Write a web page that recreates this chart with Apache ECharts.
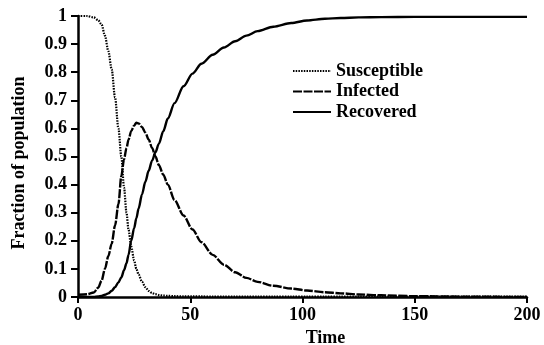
<!DOCTYPE html>
<html><head><meta charset="utf-8">
<script src="https://cdn.jsdelivr.net/npm/echarts@6/dist/echarts.min.js"></script>
<style>html,body{margin:0;padding:0;background:#fff}#c{width:544px;height:345px}</style>
</head><body><div id="c"></div>
<script>
const times =       [0,4,7,9,10.5,12,13.5,15,16.5,18,19.3,20.5,21.6,22.5,23.7,25,26,27,28.5,30,31.5,33,34.5,36,38,40,43,47,51,55,60,65,70,75,80,87,95,102,110,117,125,135,150,175,200];
const susceptible = [1.0,1.0,0.995,0.985,0.97,0.93,0.875,0.81,0.71,0.6,0.5,0.39,0.3,0.24,0.18,0.13,0.1,0.08,0.055,0.035,0.022,0.014,0.01,0.007,0.005,0.004,0.003,0.002,0.002,0.002,0.001,0.001,0.001,0.001,0.001,0.001,0.001,0.001,0.001,0.001,0.001,0.001,0.001,0.001,0.001];
const infected =    [0.008,0.01,0.016,0.033,0.058,0.1,0.145,0.19,0.255,0.33,0.43,0.49,0.53,0.56,0.59,0.61,0.62,0.618,0.605,0.585,0.56,0.53,0.5,0.47,0.435,0.4,0.345,0.29,0.24,0.195,0.15,0.115,0.088,0.068,0.054,0.04,0.03,0.023,0.017,0.013,0.009,0.006,0.003,0.001,0.0];
const recovered =   [0,0,0,0.002,0.004,0.008,0.013,0.022,0.035,0.052,0.07,0.095,0.12,0.15,0.2,0.245,0.28,0.315,0.365,0.41,0.45,0.485,0.515,0.545,0.59,0.635,0.69,0.75,0.795,0.83,0.862,0.888,0.91,0.93,0.946,0.962,0.975,0.984,0.99,0.993,0.995,0.996,0.997,0.997,0.997];
const seriesNames = ['Susceptible','Infected','Recovered'];

const pair = arr => times.map((t,i)=>[t,arr[i]]);
const font = 'Liberation Serif';
const chart = echarts.init(document.getElementById('c'));
chart.setOption({
  animation:false,
  grid:{left:78,right:17,top:16,bottom:48,containLabel:false,outerBoundsMode:'none'},
  legend:{orient:'vertical',left:287,top:57,itemWidth:38,itemHeight:14,itemGap:2.5,
    itemStyle:{opacity:0},
    textStyle:{fontFamily:font,fontSize:18,fontWeight:'bold',color:'#000',lineHeight:18,padding:[0,0,0,0]},
    data:seriesNames},
  xAxis:{type:'value',min:0,max:200,interval:50,name:'Time',nameLocation:'middle',nameGap:28,
    nameTextStyle:{fontFamily:font,fontSize:18,fontWeight:'bold',color:'#000',padding:[0,0,0,46]},
    axisLine:{lineStyle:{color:'#000',width:2.5}},
    axisTick:{lineStyle:{color:'#000',width:2},length:6},
    axisLabel:{fontFamily:font,fontSize:18,fontWeight:'bold',color:'#000',margin:9},
    splitLine:{show:false}},
  yAxis:{type:'value',min:0,max:1,interval:0.1,name:'Fraction of population',nameLocation:'middle',nameGap:50,
    nameTextStyle:{fontFamily:font,fontSize:18,fontWeight:'bold',color:'#000',padding:[0,13,0,0]},
    axisLine:{show:true,lineStyle:{color:'#000',width:2.5}},
    axisTick:{show:true,lineStyle:{color:'#000',width:2},length:7},
    axisLabel:{fontFamily:font,fontSize:18,fontWeight:'bold',color:'#000',margin:11},
    splitLine:{show:false}},
  series:[
    {name:seriesNames[0],type:'line',smooth:0.3,smoothMonotone:'x',symbol:'none',data:pair(susceptible),
      lineStyle:{color:'#000',width:2.2,type:[1.5,1.2]},itemStyle:{color:'#000'}},
    {name:seriesNames[1],type:'line',smooth:0.3,smoothMonotone:'x',symbol:'none',data:pair(infected),
      lineStyle:{color:'#000',width:2.4,type:[9,1.5]},itemStyle:{color:'#000'}},
    {name:seriesNames[2],type:'line',smooth:0.3,smoothMonotone:'x',symbol:'none',data:pair(recovered),
      lineStyle:{color:'#000',width:2.4,type:'solid'},itemStyle:{color:'#000'}}
  ]
});
</script></body></html>
